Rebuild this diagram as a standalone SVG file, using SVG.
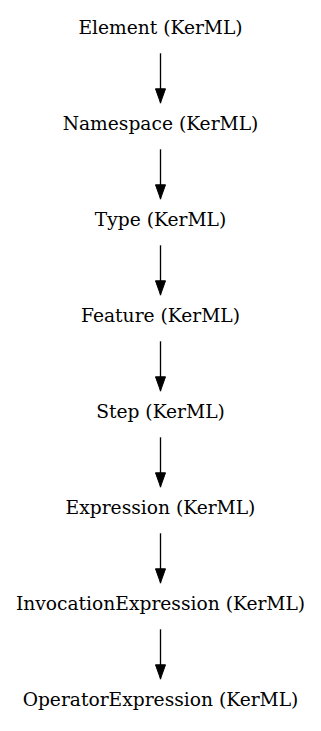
<svg xmlns="http://www.w3.org/2000/svg" width="321" height="731" viewBox="0 0 321 731">
<defs>
<marker id="ah" viewBox="0 0 15 11" refX="15" refY="5.5" markerWidth="15" markerHeight="11" markerUnits="userSpaceOnUse" orient="auto">
<path d="M0.5,0.5 L14.5,5.5 L0.5,10.5 Z" fill="#000" stroke="#000" stroke-width="1"/>
</marker>
<style>
text{font-family:"DejaVu Serif",serif;font-size:18.67px;text-anchor:middle;fill:#000}
.e{stroke:#000;stroke-width:1.33;fill:none;marker-end:url(#ah)}
</style>
</defs>
<rect width="321" height="731" fill="#fff"/>
<g id="edges">
<path class="e" d="M160.5,53.3 V103.3"/>
<path class="e" d="M160.5,149.3 V199.3"/>
<path class="e" d="M160.5,245.3 V295.3"/>
<path class="e" d="M160.5,341.3 V391.3"/>
<path class="e" d="M160.5,437.3 V487.3"/>
<path class="e" d="M160.5,533.3 V583.3"/>
<path class="e" d="M160.5,629.3 V679.3"/>
</g>
<g id="n1"><text x="160.5" y="34">Element (KerML)</text></g>
<g id="n2"><text x="160.5" y="130">Namespace (KerML)</text></g>
<g id="n3"><text x="160.5" y="226">Type (KerML)</text></g>
<g id="n4"><text x="160.5" y="322">Feature (KerML)</text></g>
<g id="n5"><text x="160.5" y="418">Step (KerML)</text></g>
<g id="n6"><text x="160.5" y="514">Expression (KerML)</text></g>
<g id="n7"><text x="160.5" y="610">InvocationExpression (KerML)</text></g>
<g id="n8"><text x="160.5" y="706">OperatorExpression (KerML)</text></g>
</svg>
